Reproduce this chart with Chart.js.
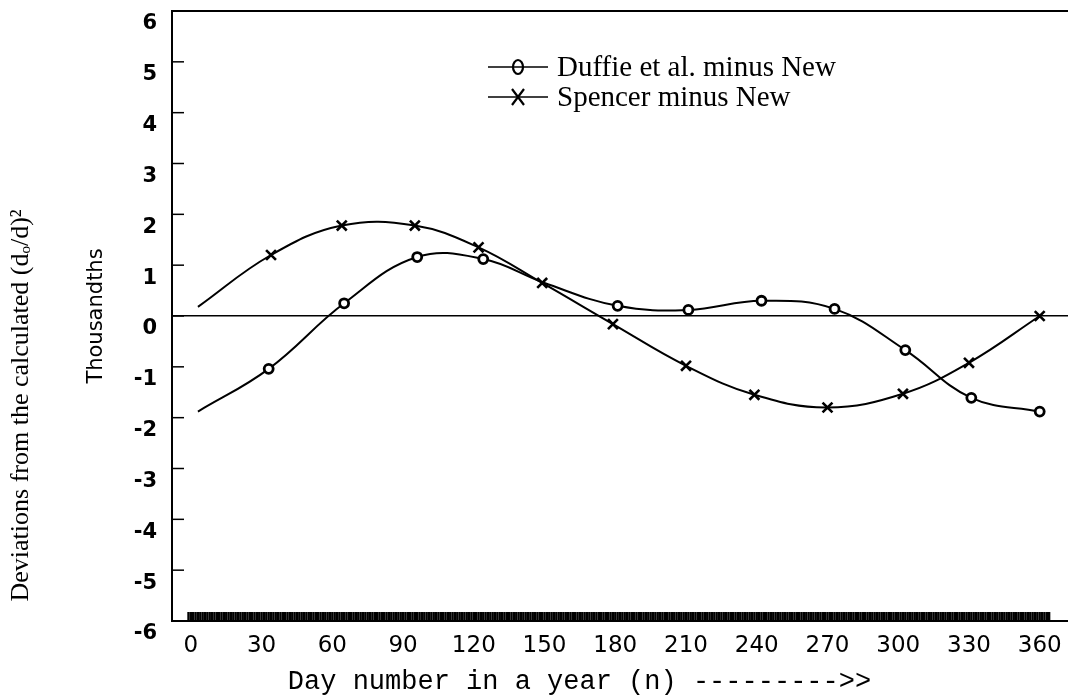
<!DOCTYPE html>
<html>
<head>
<meta charset="utf-8">
<script src="https://cdn.jsdelivr.net/npm/chart.js@4.4.1/dist/chart.umd.min.js"></script>
<style>
  html, body { margin: 0; padding: 0; background: #fff; }
  #wrap { width: 1068px; height: 698px; position: relative; }
</style>
</head>
<body>
<div id="wrap"><canvas id="chart-1"></canvas></div>
<script>
// values (thousandths)
const duffieDays = [3, 33, 65, 96, 124, 150, 181, 211, 242, 273, 303, 331, 360];
const duffieVals = [-1.88, -1.04, 0.25, 1.16, 1.12, 0.65, 0.2, 0.12, 0.3, 0.14, -0.67, -1.61, -1.88];
const spencerDays = [3, 34, 64, 95, 122, 149, 179, 210, 239, 270, 302, 330, 360];
const spencerVals = [0.18, 1.2, 1.78, 1.78, 1.35, 0.65, -0.16, -0.98, -1.55, -1.8, -1.53, -0.92, 0.0];
const xTicks = [0, 30, 60, 90, 120, 150, 180, 210, 240, 270, 300, 330, 360];
const seriesLabels = ["Duffie et al. minus New", "Spencer minus New"];

const toPoints = (days, vals) => days.map((d, i) => ({ x: d, y: vals[i] }));

const framePlugin = {
  id: "frame",
  afterDraw(chart) {
    const { ctx, chartArea, scales } = chart;
    const xs = scales.x, ys = scales.y;
    ctx.save();
    ctx.strokeStyle = "#000";
    ctx.fillStyle = "#000";

    // top edge of the box
    ctx.lineWidth = 2;
    ctx.beginPath();
    ctx.moveTo(chartArea.left, chartArea.top);
    ctx.lineTo(chartArea.right, chartArea.top);
    ctx.stroke();

    // short tick marks pointing inward on the y axis
    ctx.lineWidth = 1.5;
    ys.ticks.forEach(t => {
      const py = ys.getPixelForValue(t.value);
      ctx.beginPath();
      ctx.moveTo(chartArea.left, py);
      ctx.lineTo(chartArea.left + 12, py);
      ctx.stroke();
    });

    // one tick per day along the bottom (prints as a dark band)
    ctx.lineWidth = 2.4;
    for (let d = -1; d <= 364; d++) {
      const px = xs.getPixelForValue(d);
      ctx.beginPath();
      ctx.moveTo(px, chartArea.bottom);
      ctx.lineTo(px, chartArea.bottom - 9);
      ctx.stroke();
    }

    // legend inside the plot
    const lx = chartArea.left + 316;
    chart.data.datasets.forEach((ds, i) => {
      const ly = chartArea.top + 56 + i * 30;
      ctx.lineWidth = 1.6;
      ctx.beginPath();
      ctx.moveTo(lx, ly);
      ctx.lineTo(lx + 60, ly);
      ctx.stroke();
      const mx = lx + 30;
      ctx.lineWidth = 2.2;
      ctx.beginPath();
      if (ds.pointStyle === "circle") {
        ctx.ellipse(mx, ly, 5, 7, 0, 0, Math.PI * 2);
      } else {
        ctx.moveTo(mx - 6, ly - 8); ctx.lineTo(mx + 6, ly + 8);
        ctx.moveTo(mx + 6, ly - 8); ctx.lineTo(mx - 6, ly + 8);
      }
      ctx.stroke();
      ctx.font = "29px 'Liberation Serif'";
      ctx.textBaseline = "middle";
      ctx.textAlign = "left";
      ctx.fillText(ds.label, lx + 69, ly + 1);
    });
    ctx.restore();
  }
};

const ctx1 = document.getElementById("chart-1").getContext("2d");
const myChart = new Chart(ctx1, {
  type: "line",
  data: {
    datasets: [
      {
        label: seriesLabels[0],
        data: toPoints(duffieDays, duffieVals),
        borderColor: "#000",
        borderWidth: 2,
        tension: 0.4,
        pointStyle: "circle",
        pointRadius: duffieDays.map((d, i) => (i === 0 || d === 150 ? 0 : 4.5)),
        pointBorderWidth: 2.8,
        pointBackgroundColor: "#fff",
        pointBorderColor: "#000",
      },
      {
        label: seriesLabels[1],
        data: toPoints(spencerDays, spencerVals),
        borderColor: "#000",
        borderWidth: 2,
        tension: 0.4,
        pointStyle: "crossRot",
        pointRadius: spencerDays.map((d, i) => (i === 0 ? 0 : 7)),
        pointBorderWidth: 2.6,
        pointBorderColor: "#000",
      },
    ],
  },
  options: {
    responsive: true,
    maintainAspectRatio: false,
    animation: false,
    layout: { autoPadding: false, padding: { top: 11, right: 0, left: 0, bottom: 0 } },
    plugins: {
      legend: { display: false },
      tooltip: { enabled: false },
    },
    scales: {
      x: {
        type: "linear",
        min: -8,
        max: 372,
        afterBuildTicks: (scale) => { scale.ticks = xTicks.map(v => ({ value: v })); },
        afterFit: (scale) => {
          scale.height = 77;
          scale.paddingLeft = 0;
          scale.paddingRight = 0;
        },
        grid: { display: false, drawTicks: false },
        border: { display: true, color: "#000", width: 2 },
        ticks: {
          color: "#000",
          padding: 11,
          maxRotation: 0,
          autoSkip: false,
          font: { family: "'DejaVu Sans'", size: 23 },
        },
        title: {
          display: true,
          text: "Day number in a year (n) --------->>     ",
          color: "#000",
          padding: { top: 0, bottom: 0 },
          font: { family: "'Liberation Mono'", size: 27 },
        },
      },
      y: {
        min: -6,
        max: 6,
        weight: 0,
        afterFit: (scale) => {
          scale.width = 127;
          scale.paddingTop = 0;
          scale.paddingBottom = 0;
        },
        grid: {
          drawTicks: false,
          color: (c) => (c.tick && c.tick.value === 0 ? "#000" : "rgba(0,0,0,0)"),
          lineWidth: 1.5,
        },
        border: { display: true, color: "#000", width: 2 },
        ticks: {
          stepSize: 1,
          color: "#000",
          padding: 15,
          labelOffset: 13,
          font: { family: "'DejaVu Sans'", size: 21, weight: "bold" },
        },
        title: {
          display: true,
          text: "Thousandths",
          color: "#000",
          padding: { top: 39, bottom: 0 },
          font: { family: "'DejaVu Sans'", size: 21 },
        },
      },
      y2: {
        position: "left",
        weight: 1,
        afterFit: (scale) => {
          scale.width = 45;
          scale.paddingTop = 0;
          scale.paddingBottom = 0;
        },
        grid: { display: false, drawTicks: false },
        border: { display: false },
        ticks: { display: false },
        title: {
          display: true,
          align: "start",
          text: "   Deviations from the calculated (dₒ/d)²",
          color: "#000",
          padding: { top: 6, bottom: 0 },
          font: { family: "'Liberation Serif'", size: 26 },
        },
      },
    },
  },
  plugins: [framePlugin],
});
</script>
</body>
</html>
